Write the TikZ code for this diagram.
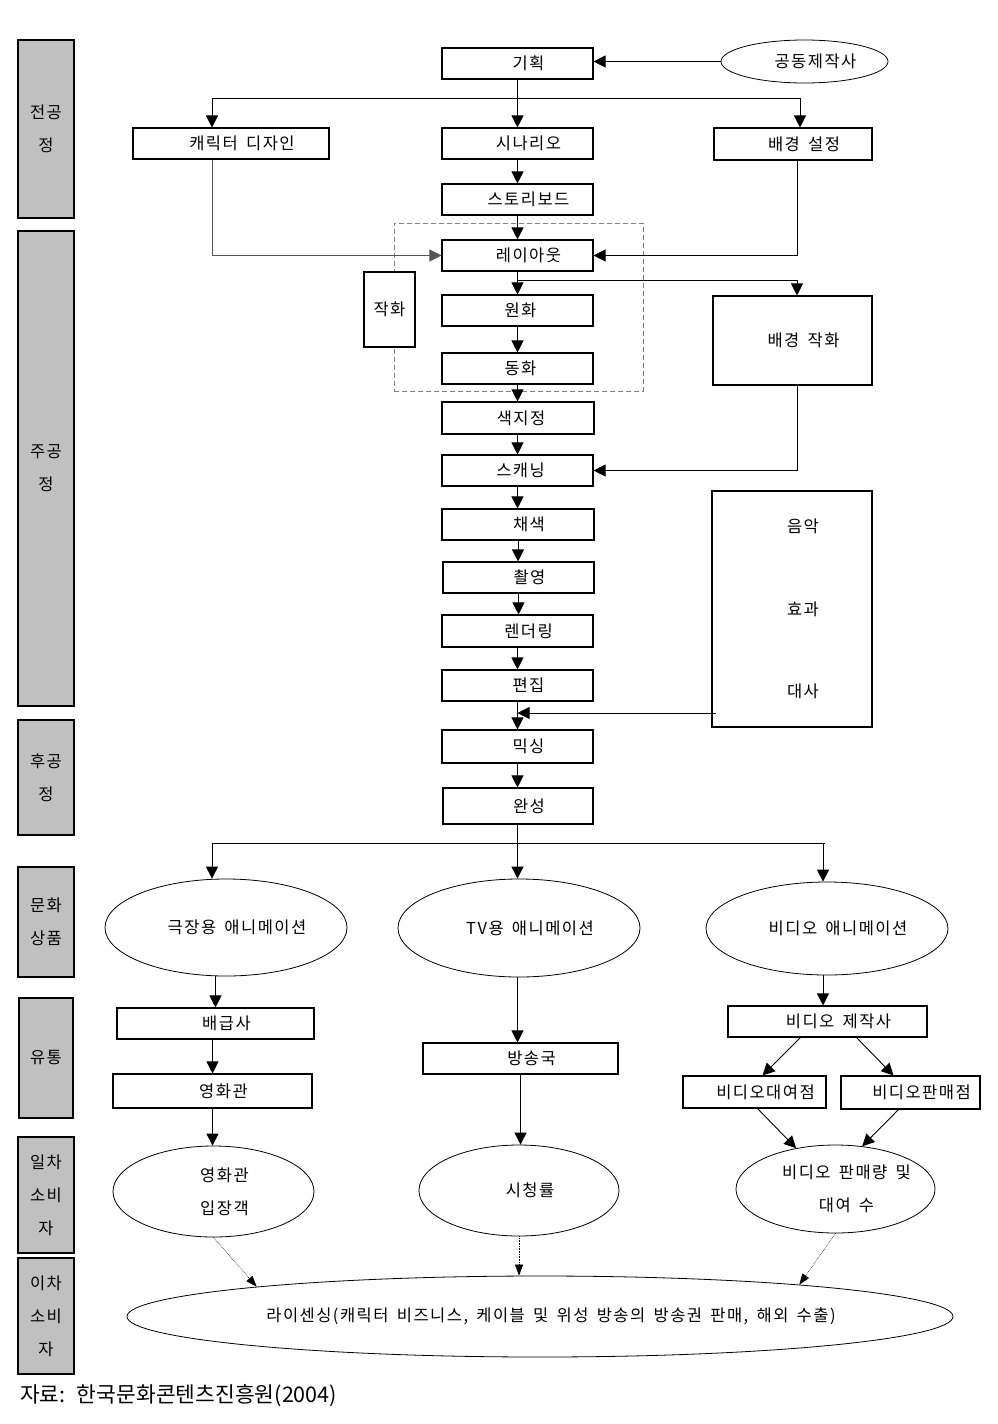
\documentclass[tikz,border=0pt]{standalone}
\usepackage{fontspec}
\setmainfont{Noto Sans CJK KR}[LetterSpace=9,WordSpace=1.6]
\newfontfamily\capfont{Noto Sans CJK KR}
\usetikzlibrary{arrows.meta,shapes.geometric}
\newcommand\ind{\hspace*{22pt}}
\newcommand\zb[1]{\makebox[0pt]{#1}}
\definecolor{sidegray}{HTML}{C0C0C0}
\definecolor{lnGray}{HTML}{555555}
\begin{document}
\begin{tikzpicture}[x=1pt,y=-1pt,
  bx/.style={draw, line width=1.1pt, inner sep=0pt, fill=white, font=\fontsize{16.5}{18}\selectfont},
  el/.style={draw, ellipse, line width=0.8pt, inner sep=0pt, align=center, font=\fontsize{16.5}{33}\selectfont},
  side/.style={draw, line width=1.1pt, fill=sidegray, inner sep=0pt, align=center, font=\fontsize{16.5}{33}\selectfont},
  arr/.style={-{Triangle[length=12pt,width=12pt]}, line width=0.9pt},
  ln/.style={line width=0.9pt},
  dotarr/.style={-{Triangle[length=11pt,width=8pt]}, line width=0.6pt, densely dotted},
  frm/.style={draw, dashed, gray, line width=0.8pt, inner sep=0pt, dash pattern=on 5pt off 3pt}
]
\useasboundingbox (0,0) rectangle (998,1424);

% side bars
\node[side, minimum width=56pt, minimum height=178pt] (s1) at (46,129) {전공\\정};
\node[side, minimum width=56pt, minimum height=475pt] (s2) at (46,468.5) {주공\\정};
\node[side, minimum width=56pt, minimum height=115pt] (s3) at (46,777.5) {후공\\정};
\node[side, minimum width=56pt, minimum height=110pt] (s4) at (46,922) {문화\\상품};
\node[side, minimum width=54pt, minimum height=120pt] (s5) at (46,1058) {유통};
\node[side, minimum width=56pt, minimum height=116pt] (s6) at (46,1195) {일차\\소비\\자};
\node[side, minimum width=56pt, minimum height=116pt] (s7) at (46,1316) {이차\\소비\\자};

% dashed frame
\node[frm, minimum width=249pt, minimum height=168pt] (frame) at (518.5,307) {};

% process boxes
\node[bx, minimum width=151pt, minimum height=31pt] (giho) at (517.5,63.5) {\ind 기획};
\node[el, minimum width=167pt, minimum height=43pt] (gong) at (804.5,61.5) {\zb{\ind 공동제작사}};
\node[bx, minimum width=196pt, minimum height=31pt] (char) at (231,143.5) {\ind 캐릭터 디자인};
\node[bx, minimum width=151pt, minimum height=31pt] (scen) at (517.5,143.5) {\ind 시나리오};
\node[bx, minimum width=158pt, minimum height=32pt] (bgset) at (793,144) {\ind 배경 설정};
\node[bx, minimum width=151pt, minimum height=31pt] (story) at (517.5,199.5) {\ind 스토리보드};
\node[bx, minimum width=151pt, minimum height=31pt] (layout) at (517.5,255.5) {\ind 레이아웃};
\node[bx, minimum width=51pt, minimum height=75pt] (jak) at (389.5,309.5) {작화};
\node[bx, minimum width=151pt, minimum height=31pt] (won) at (517.5,310.5) {\hspace*{6pt}원화};
\node[bx, minimum width=151pt, minimum height=31pt] (dong) at (517.5,368.5) {\hspace*{6pt}동화};
\node[bx, minimum width=152pt, minimum height=32pt] (saek) at (518,418) {\hspace*{6pt}색지정};
\node[bx, minimum width=151pt, minimum height=31pt] (scan) at (517.5,470.5) {\hspace*{6pt}스캐닝};
\node[bx, minimum width=152pt, minimum height=31pt] (chae) at (518,524.5) {\ind 채색};
\node[bx, minimum width=151pt, minimum height=31pt] (chwal) at (518.5,577.5) {\ind 촬영};
\node[bx, minimum width=151pt, minimum height=32pt] (render) at (517.5,631) {\ind 렌더링};
\node[bx, minimum width=151pt, minimum height=31pt] (edit) at (517.5,685.5) {\ind 편집};
\node[bx, minimum width=151pt, minimum height=33pt] (mix) at (517.5,746.5) {\ind 믹싱};
\node[bx, minimum width=150pt, minimum height=36pt] (wan) at (518,806) {\ind 완성};
\node[bx, minimum width=159pt, minimum height=89pt] (bgdraw) at (792.5,340.5) {\ind 배경 작화};
\node[bx, minimum width=160pt, minimum height=236pt, align=center, font=\fontsize{16.5}{82.5}\selectfont] (sound) at (792,609) {\ind 음악\\\ind 효과\\\ind 대사};

% products
\node[el, minimum width=242pt, minimum height=97pt] (theater) at (226,927.5) {\zb{\ind 극장용 애니메이션}};
\node[el, minimum width=242pt, minimum height=98pt] (tv) at (519,928) {\zb{\ind TV용 애니메이션}};
\node[el, minimum width=242pt, minimum height=93pt] (video) at (827,928.5) {\zb{\ind 비디오 애니메이션}};

% distribution
\node[bx, minimum width=197pt, minimum height=31pt] (baeg) at (215.5,1023.5) {\ind 배급사};
\node[bx, minimum width=199pt, minimum height=34pt] (cinema) at (212.5,1091) {\ind 영화관};
\node[bx, minimum width=195pt, minimum height=31pt] (bang) at (520.5,1058.5) {\ind 방송국};
\node[bx, minimum width=199pt, minimum height=31pt] (vmaker) at (827.5,1021.5) {\ind 비디오 제작사};
\node[bx, minimum width=143pt, minimum height=32pt] (rent) at (754.5,1092) {\ind 비디오대여점};
\node[bx, minimum width=139pt, minimum height=33pt] (sell) at (910.5,1092.5) {\ind 비디오판매점};

% consumers
\node[el, minimum width=201pt, minimum height=91pt] (aud) at (213.5,1191.5) {\zb{\ind 영화관}\\\zb{\ind 입장객}};
\node[el, minimum width=200pt, minimum height=91pt] (rating) at (519,1190.5) {\zb{\ind 시청률}};
\node[el, minimum width=199pt, minimum height=88pt] (sales) at (835.5,1189) {\zb{\ind 비디오 판매량 및}\\\zb{\ind 대여 수}};
\node[el, minimum width=826pt, minimum height=81pt] (lic) at (540,1316.5) {\zb{\ind 라이센싱(캐릭터 비즈니스, 케이블 및 위성 방송의 방송권 판매, 해외 수출)}};

% caption
\node[anchor=west, inner sep=0pt, font=\capfont\fontsize{21.5}{24}\selectfont] (cap) at (20,1396) {자료: \ 한국문화콘텐츠진흥원(2004)};

% connectors - top
\draw[arr] (gong.west) -- (gong.west -| giho.east);
\coordinate (b1) at (212,98);
\coordinate (b3) at (800,98);
\draw[ln] (b1) -- (b3);
\draw[arr] (b1) -- (b1 |- char.north);
\draw[arr] (giho.south) -- (scen.north);
\draw[arr] (b3) -- (b3 |- bgset.north);
\draw[arr] (scen.south) -- (story.north);
\draw[arr] (story.south) -- (layout.north);
\draw[arr, lnGray] (b1 |- char.south) -- (b1 |- layout.west) -- (layout.west);
\coordinate (b4) at (797,0);
\draw[arr] (b4 |- bgset.south) -- (b4 |- layout.east) -- (layout.east);
\coordinate (b5) at (517.5,280);
\coordinate (b6) at (797,280);
\draw[ln] (b5) -- (b6);
\draw[arr] (layout.south) -- (won.north);
\draw[arr] (b6) -- (b6 |- bgdraw.north);
\draw[arr] (won.south) -- (dong.north);
\draw[arr] (dong.south) -- (dong.south |- saek.north);
\draw[arr] (saek.south -| scan.north) -- (scan.north);
\draw[arr] (b4 |- bgdraw.south) -- (b4 |- scan.east) -- (scan.east);
\draw[arr] (scan.south) -- (scan.south |- chae.north);
\draw[arr] (chae.south) -- (chae.south |- chwal.north);
\draw[arr] (chwal.south) -- (chwal.south |- render.north);
\draw[arr] (render.south) -- (edit.north);
\draw[arr] (edit.south) -- (mix.north);
\coordinate (s0) at (716,713);
\draw[arr] (s0) -- (s0 -| edit.south);
\draw[arr] (mix.south) -- (mix.south |- wan.north);

% connectors - bottom
\coordinate (c1) at (212,843);
\coordinate (c2) at (517.5,843);
\coordinate (c3) at (825,843);
\coordinate (c4) at (823,843);
\draw[ln] (wan.south -| c2) -- (c2);
\draw[ln] (c1) -- (c3);
\draw[arr] (c1) -- (c1 |- theater.north);
\draw[arr] (c2) -- (c2 |- tv.north);
\draw[arr] (c4) -- (c4 |- video.north);
\draw[arr] (baeg.north |- theater.south) -- (baeg.north);
\draw[arr] (cinema.north |- baeg.south) -- (cinema.north);
\draw[arr] (cinema.south) -- (cinema.south |- aud.north);
\draw[arr] (c2 |- tv.south) -- (c2 |- bang.north);
\draw[arr] (bang.south) -- (bang.south |- rating.north);
\draw[arr] (c4 |- video.south) -- (c4 |- vmaker.north);
\draw[arr] ([xshift=-27pt]vmaker.south) -- ([xshift=8pt]rent.north);
\draw[arr] ([xshift=29pt]vmaker.south) -- ([xshift=-17pt]sell.north);
\draw[arr] ([xshift=3pt]rent.south) -- (sales.134);
\draw[arr] ([xshift=-12pt]sell.south) -- (sales.58);
\draw[dotarr] (aud.south) -- (lic.174);
\draw[dotarr] (rating.south) -- (rating.south |- lic.north);
\draw[dotarr] (sales.south) -- (lic.7.8);
\end{tikzpicture}
\end{document}
